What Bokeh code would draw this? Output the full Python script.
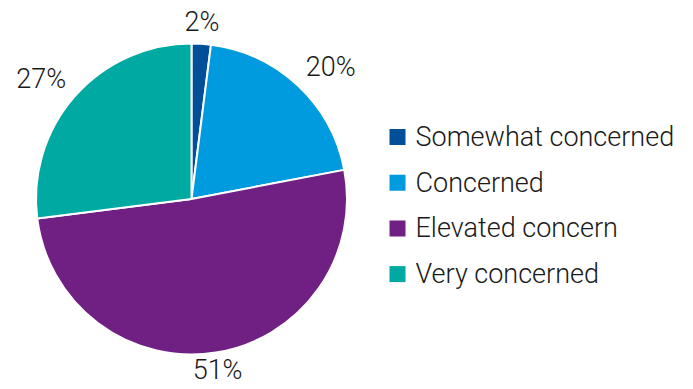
import math
from bokeh.plotting import figure
from bokeh.models import ColumnDataSource, Range1d
from bokeh.core.properties import value
from bokeh.embed import file_html
from bokeh.resources import INLINE

categories = ["Somewhat concerned", "Concerned", "Elevated concern", "Very concerned"]
shares = [2, 20, 51, 27]
pct_labels = ["2%", "20%", "51%", "27%"]
colors = ["#004F98", "#009ADE", "#702082", "#00A9A1"]

W, H = 693, 389
cx, cy, r = 191, H - 198.5, 155.5
font = "'Roboto Light', Roboto"

p = figure(width=W, height=H, output_backend="svg", toolbar_location=None,
           x_range=Range1d(0, W), y_range=Range1d(0, H), min_border=0)
p.axis.visible = False
p.grid.visible = False
p.outline_line_color = None
p.background_fill_color = "white"

total = float(sum(shares))
starts, ends, mids = [], [], []
acc = 0.0
for s in shares:
    a0 = acc / total
    acc += s
    a1 = acc / total
    starts.append(math.pi / 2 - 2 * math.pi * a0)
    ends.append(math.pi / 2 - 2 * math.pi * a1)
    mids.append(2 * math.pi * (a0 + a1) / 2)

src = ColumnDataSource(dict(start=starts, end=ends, color=colors))
p.wedge(x=cx, y=cy, radius=r, start_angle="start", end_angle="end",
        direction="clock", fill_color="color", line_color="white", line_width=2,
        source=src)

# percent labels: box placed just outside the pie along the mid angle
R_lab = 167
half_h = 10
lx, ly, al = [], [], []
for th in mids:
    s, c = math.sin(th), math.cos(th)
    lx.append(cx + R_lab * s)
    ly.append(cy + R_lab * c + (half_h if c > 0 else -half_h + 4))
    al.append("left" if s > 0.3 else ("right" if s < -0.3 else "center"))
lsrc = ColumnDataSource(dict(x=lx, y=ly, t=pct_labels, a=al))
p.text(x="x", y="y", text="t", text_align="a", text_baseline="middle",
       text_font=value(font), text_font_size="27px", text_color="#1a1a1a",
       source=lsrc)

# legend
leg_x, leg_y0, leg_dy = 397, H - 136.5, 45.7
ys = [leg_y0 - i * leg_dy for i in range(len(categories))]
p.scatter(x=[leg_x] * len(ys), y=ys, marker="square", size=16,
          fill_color=colors, line_color=None)
p.text(x=[leg_x + 18] * len(ys), y=ys, text=categories, text_align="left",
       text_baseline="middle", text_font=value(font), text_font_size="27px",
       text_color="#1a1a1a")

open("out.html", "w").write(file_html(p, INLINE))
